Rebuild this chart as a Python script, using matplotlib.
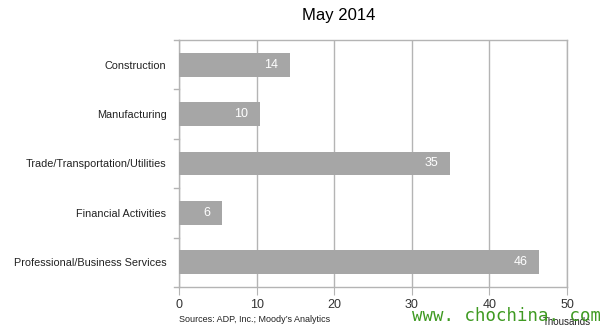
import matplotlib.pyplot as plt
import numpy as np

plt.rcParams['font.family'] = ['Liberation Sans', 'DejaVu Sans']

sectors = ['Construction', 'Manufacturing', 'Trade/Transportation/Utilities',
           'Financial Activities', 'Professional/Business Services']
jobs = [14.3, 10.4, 34.9, 5.5, 46.4]  # thousands
xticks = [0, 10, 20, 30, 40, 50]

grid_col = '#b4b4b4'
bar_col = '#a6a6a6'

fig = plt.figure(figsize=(6.13, 3.36), dpi=100)
ax = fig.add_axes([0.292, 0.146, 0.633, 0.735])

y = np.arange(len(sectors))
ax.barh(y, jobs, height=0.48, color=bar_col, zorder=3)
for yi, v in zip(y, jobs):
    ax.text(v - 1.5, yi, f'{v:.0f}', color='white', fontsize=9,
            ha='right', va='center', zorder=4)

ax.set_xlim(0, 50)
ax.set_ylim(len(sectors) - 0.5, -0.5)
ax.set_xticks(xticks)
ax.set_xticklabels([str(t) for t in xticks], fontsize=9, color='#333333')
ax.set_yticks(y)
ax.set_yticklabels(sectors, fontsize=7.8, color='#222222')
ax.tick_params(axis='y', length=0, pad=9)
ax.tick_params(axis='x', length=6, color=grid_col, pad=3)

# small ticks between categories on the left axis
for b in np.arange(-0.5, len(sectors), 1.0):
    ax.plot([-0.6, 0], [b, b], color=grid_col, lw=1, clip_on=False, zorder=2)

ax.grid(axis='x', color=grid_col, lw=1, zorder=0)
for s in ['left', 'bottom', 'top', 'right']:
    ax.spines[s].set_color(grid_col)
    ax.spines[s].set_linewidth(1)

fig.text(0.553, 0.955, 'May 2014', fontsize=12, ha='center', va='center')
fig.text(0.292, 0.048, "Sources: ADP, Inc.; Moody\u2019s Analytics", fontsize=6.5,
         ha='left', va='center', color='#222222')
fig.text(0.886, 0.042, 'Thousands', fontsize=7, ha='left', va='center',
         color='#222222')
fig.text(0.672, 0.06, 'www. chochina. com', fontsize=12.5, ha='left',
         va='center', color='#3f9a22', family='DejaVu Sans Mono')

fig.savefig('out.png', dpi=100)
